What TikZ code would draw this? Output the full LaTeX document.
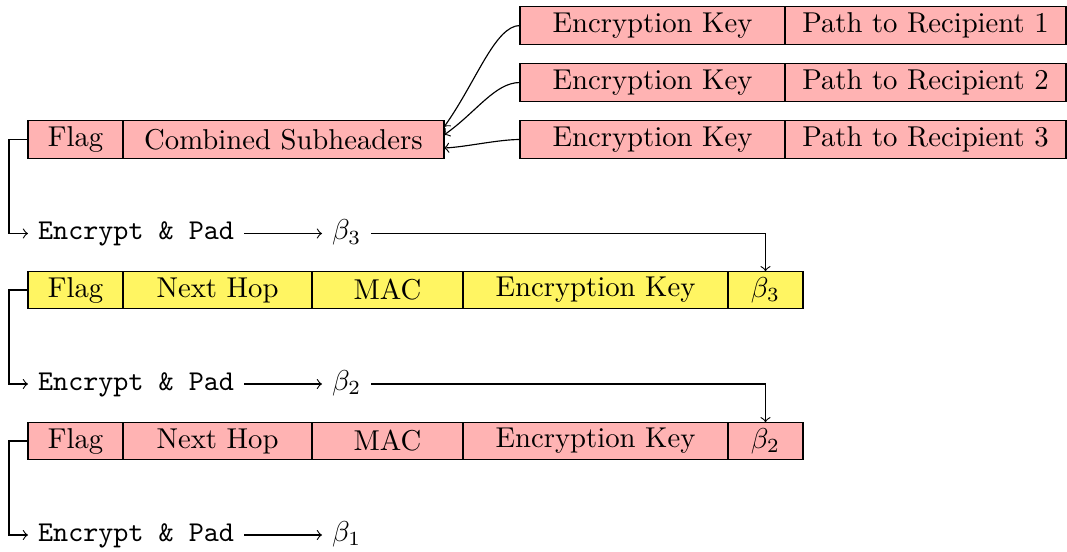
\documentclass[tikz,border=0pt]{standalone}
\usetikzlibrary{calc}
\definecolor{pinkfill}{RGB}{255,179,179}
\definecolor{yelfill}{RGB}{255,245,98}
\tikzset{
  cell/.style={draw, minimum height=37.5*0.3484pt, inner sep=0pt, outer sep=0pt, anchor=west},
  pinkcell/.style={cell, fill=pinkfill},
  yelcell/.style={cell, fill=yelfill},
  w/.style={minimum width=#1*0.3484pt},
  optext/.style={anchor=west, text height=7pt, text depth=2.5pt, font=\ttfamily},
  betatext/.style={anchor=west, text height=7pt, text depth=2.5pt},
}
\begin{document}
\begin{tikzpicture}[x=0.3484pt, y=-0.3484pt]
\useasboundingbox (0,0) rectangle (1067,552);

% recipient subheaders
\node[pinkcell, w=265] (ek1) at (520,25.5)  {Encryption Key};
\node[pinkcell, w=281] (pr1) at (785,25.5)  {Path to Recipient 1};
\node[pinkcell, w=265] (ek2) at (520,82.5)  {Encryption Key};
\node[pinkcell, w=281] (pr2) at (785,82.5)  {Path to Recipient 2};
\node[pinkcell, w=265] (ek3) at (520,139.5) {Encryption Key};
\node[pinkcell, w=281] (pr3) at (785,139.5) {Path to Recipient 3};

% combined header
\node[pinkcell, w=95]  (f0) at (28,139.5)  {Flag};
\node[pinkcell, w=321] (cs) at (123,139.5) {Combined Subheaders};

\coordinate (in1) at ($(cs.east)+(0,-12.5)$);
\coordinate (in2) at ($(cs.east)+(0,-4.5)$);
\coordinate (in3) at ($(cs.east)+(0,8.5)$);
\draw[->] (ek1.west) .. controls ($(ek1.west)+(-25,0)$) and ($(in1)+(32,-44.6)$) .. (in1);
\draw[->] (ek2.west) .. controls ($(ek2.west)+(-25,0)$) and ($(in2)+(32.8,-23.2)$) .. (in2);
\draw[->] (ek3.west) .. controls ($(ek3.west)+(-22,0)$) and ($(in3)+(22,-1)$) .. (in3);

% first layer
\node[optext]   (enc1) at (28,233.5)  {Encrypt \& Pad};
\node[betatext] (bt3)  at (322,233.5) {$\beta_3$};
\draw[->] (f0.west) -- ++(-19,0) |- (enc1.west);
\draw[->] (enc1.east) -- (bt3.west);

\node[yelcell, w=95]  (yf)  at (28,290)  {Flag};
\node[yelcell, w=189] (ynh) at (123,290) {Next Hop};
\node[yelcell, w=151] (ym)  at (312,290) {MAC};
\node[yelcell, w=265] (yek) at (463,290) {Encryption Key};
\node[yelcell, w=75]  (yb)  at (728,290) {$\beta_3$};
\draw[->] (bt3.east) -| (yb.north);

% second layer
\node[optext]   (enc2) at (28,384)  {Encrypt \& Pad};
\node[betatext] (bt2)  at (322,384) {$\beta_2$};
\draw[->] (yf.west) -- ++(-19,0) |- (enc2.west);
\draw[->] (enc2.east) -- (bt2.west);

\node[pinkcell, w=95]  (pf)  at (28,441)  {Flag};
\node[pinkcell, w=189] (pnh) at (123,441) {Next Hop};
\node[pinkcell, w=151] (pm)  at (312,441) {MAC};
\node[pinkcell, w=265] (pek) at (463,441) {Encryption Key};
\node[pinkcell, w=75]  (pb)  at (728,441) {$\beta_2$};
\draw[->] (bt2.east) -| (pb.north);

% third layer
\node[optext]   (enc3) at (28,535)  {Encrypt \& Pad};
\node[betatext] (bt1)  at (322,535) {$\beta_1$};
\draw[->] (pf.west) -- ++(-19,0) |- (enc3.west);
\draw[->] (enc3.east) -- (bt1.west);
\end{tikzpicture}
\end{document}
